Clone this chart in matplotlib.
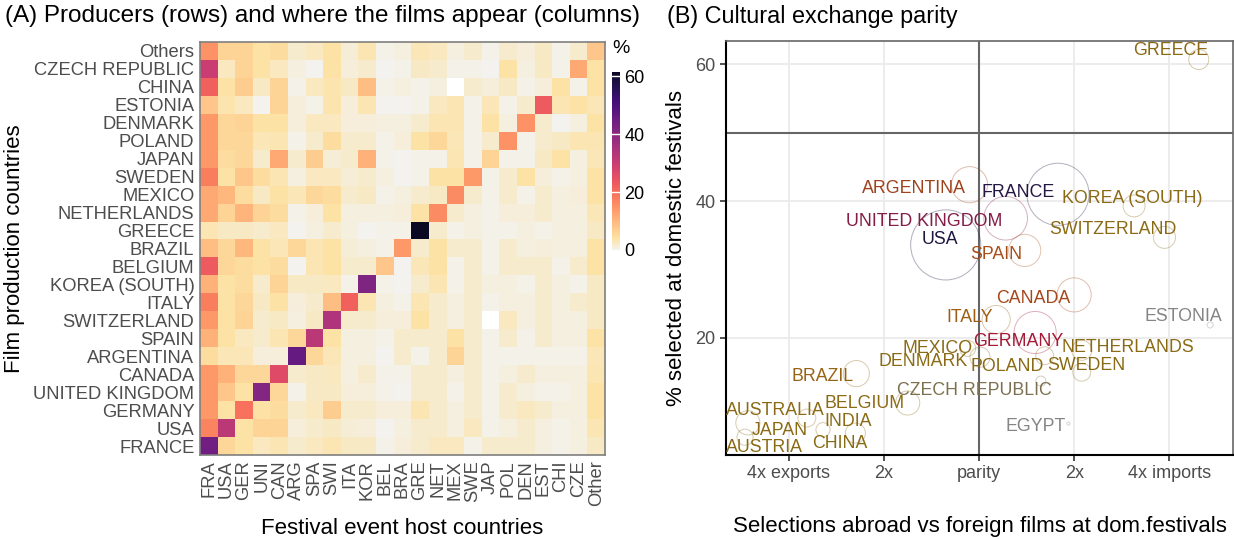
import numpy as np
import matplotlib
matplotlib.use("Agg")
import matplotlib.pyplot as plt
from matplotlib.colors import LinearSegmentedColormap, Normalize

plt.rcParams["font.family"] = ["Liberation Sans", "DejaVu Sans"]

# ---- (A) heatmap data: % of each producer's selections by host country ----
producers = ["Others", "CZECH REPUBLIC", "CHINA", "ESTONIA", "DENMARK", "POLAND",
             "JAPAN", "SWEDEN", "MEXICO", "NETHERLANDS", "GREECE", "BRAZIL",
             "BELGIUM", "KOREA (SOUTH)", "ITALY", "SWITZERLAND", "SPAIN",
             "ARGENTINA", "CANADA", "UNITED KINGDOM", "GERMANY", "USA", "FRANCE"]
hosts = ["FRA", "USA", "GER", "UNI", "CAN", "ARG", "SPA", "SWI", "ITA", "KOR",
         "BEL", "BRA", "GRE", "NET", "MEX", "SWE", "JAP", "POL", "DEN", "EST",
         "CHI", "CZE", "Other"]

row_others = [15, 6, 6, 4, 4.7, 1.8, 2.5, 4, 1.4, 3.3, 0.4, 0.8, 2.9, 2.5, 0.8, 1.8, 0.4, 1.8, 1.1, 2.2, 0.4, 1.8, 7.8]
row_czech = [30, 2.5, 6, 4, 2.5, 0.8, 0.2, 4, 1.1, 1.8, 0.2, 0.4, 2.2, 1.8, 0.4, 0.4, 0.2, 4, 0.8, 2.2, 0.4, 12, 4]
row_china = [22, 4, 6.8, 2.2, 6, 0.4, 2.5, 3.6, 2.2, 9, 0.4, 0.8, 0.4, 0.8, np.nan, 1.8, 1.1, 2.2, 0.4, 1.1, 4, 0.4, 4]
row_estonia = [7.8, 3.6, 2.5, 0.2, 6, 1.1, 0.4, 3.6, 1.1, 3.3, 0.2, 0.2, 0.4, 2.5, 3.3, 0.4, 2.9, 0.4, 1.8, 23, 3.3, 4, 2.9]
row_denmark = [14, 5.3, 6, 4, 4, 1.1, 2.5, 2.5, 1.1, 1.1, 0.8, 0.8, 1.8, 3.3, 3.3, 0.4, 4, 0.8, 15, 1.8, 0.2, 0.8, 4]
row_poland = [14, 5.3, 5.3, 2.9, 3.3, 0.4, 1.8, 4.7, 1.8, 1.8, 0.4, 1.1, 4, 5.3, 2.9, 0.4, 1.8, 15, 0.4, 1.8, 2.2, 3.3, 3.3]
row_japan = [14, 4.7, 5.3, 1.8, 12, 1.8, 6.8, 1.4, 1.8, 11, 0.4, 0.2, 0.4, 0.4, 3.3, 0.4, 6, 0.4, 0.4, 2.2, 4, 0.8, 2.9]
row_sweden = [18, 4, 7.8, 4.7, 3.3, 0.8, 2.5, 2.5, 1.4, 1.8, 0.8, 0.2, 0.4, 4, 4, 14, 0.4, 1.8, 4, 1.1, 0.4, 0.8, 4]
row_mexico = [12, 10, 4.7, 2.2, 4, 2.9, 5.3, 4.7, 1.8, 2.2, 0.4, 0.8, 1.8, 2.2, 16, 1.8, 0.4, 1.8, 0.4, 1.8, 0.8, 1.1, 4]
row_netherlands = [12, 6, 10.5, 6, 4.7, 0.4, 1.1, 4, 0.8, 0.8, 0.8, 1.1, 4, 16, 1.8, 0.8, 0.4, 1.1, 1.1, 1.8, 0.8, 0.8, 2.9]
row_greece = [3.3, 2.2, 2.2, 1.8, 2.5, 0.2, 0.8, 1.8, 0.8, 0.2, 0.4, 0.4, 61.5, 1.8, 0.4, 0.8, 0.4, 0.4, 0.8, 0.4, 0.8, 0.8, 2.2]
row_brazil = [9, 5.3, 10, 4, 2.9, 5.3, 3.3, 4, 1.4, 0.8, 0.4, 14, 1.8, 4, 1.8, 1.8, 0.4, 1.8, 0.8, 1.1, 0.8, 0.8, 4]
row_belgium = [23, 5.3, 4.7, 4, 4.7, 0.2, 3.3, 4, 1.8, 1.8, 7.8, 0.2, 2.9, 4, 0.4, 1.8, 0.4, 1.8, 1.8, 1.8, 0.4, 1.8, 4]
row_korea = [11, 4, 4.7, 1.8, 6, 2.2, 2.2, 2.5, 0.4, 42, 0.4, 0.2, 1.8, 3.3, 0.4, 1.8, 0.8, 0.8, 0.4, 1.8, 0.8, 0.4, 2.2]
row_italy = [18, 4, 5.3, 2.2, 4, 1.1, 1.8, 9, 22, 3.3, 0.8, 0.4, 3.3, 1.8, 0.8, 1.8, 0.4, 0.8, 0.8, 1.8, 0.8, 1.8, 2.2]
row_switzerland = [14, 4, 6, 1.8, 2.2, 0.8, 2.2, 34, 1.8, 1.8, 1.1, 1.1, 4, 1.8, 0.8, 1.8, np.nan, 2.5, 0.8, 1.8, 0.8, 0.8, 2.2]
row_spain = [11, 4, 2.5, 1.8, 3.3, 5.3, 32, 4, 0.8, 0.8, 0.4, 1.8, 1.8, 1.8, 4, 1.8, 0.4, 1.8, 0.4, 1.8, 0.8, 0.8, 4]
row_argentina = [4.7, 2.9, 2.9, 1.1, 1.1, 46, 5.3, 2.9, 0.8, 0.8, 0.2, 1.8, 0.4, 1.8, 6, 1.8, 0.4, 0.4, 0.4, 0.4, 0.4, 0.4, 2.9]
row_canada = [14, 11, 5.3, 5.3, 26, 1.8, 2.2, 2.5, 0.8, 1.8, 0.4, 0.4, 1.8, 1.8, 0.8, 1.8, 0.4, 0.8, 1.8, 0.8, 0.8, 0.8, 3.3]
row_uk = [14, 7.8, 4, 41, 5.3, 0.4, 2.2, 2.2, 1.1, 1.1, 0.4, 0.2, 1.8, 1.8, 0.4, 1.8, 0.4, 1.8, 0.8, 0.4, 0.4, 0.8, 4]
row_germany = [14, 4, 19.5, 4, 4.7, 1.8, 2.5, 6.8, 1.8, 1.8, 1.1, 1.1, 3.3, 1.8, 0.8, 1.8, 0.4, 1.8, 2.5, 1.8, 0.8, 0.8, 4]
row_usa = [17, 32, 4, 6, 6, 1.1, 1.8, 2.2, 1.4, 1.1, 0.2, 0.8, 1.8, 1.8, 0.8, 2.5, 0.4, 0.8, 1.8, 0.8, 0.4, 0.8, 3.3]
row_france = [44, 5.3, 4, 2.5, 3.3, 1.8, 2.5, 3.3, 2.2, 2.2, 0.4, 1.1, 1.8, 2.5, 2.5, 0.4, 1.8, 1.8, 1.8, 0.8, 0.4, 0.8, 2.2]

# ---- (B) scatter data ----
countries = ["FRANCE", "USA", "UNITED KINGDOM", "GERMANY", "ARGENTINA", "CANADA",
             "SPAIN", "ITALY", "BRAZIL", "KOREA (SOUTH)", "SWITZERLAND", "GREECE",
             "BELGIUM", "AUSTRALIA", "CHINA", "NETHERLANDS", "SWEDEN", "POLAND",
             "MEXICO", "DENMARK", "JAPAN", "INDIA", "AUSTRIA", "CZECH REPUBLIC",
             "ESTONIA", "EGYPT"]
# log2(imports / exports)
exchange_ratio = [0.83, -0.35, 0.28, 0.59, -0.10, 1.00, 0.48, 0.18, -1.29, 1.63, 1.95, 2.31,
                  -0.75, -2.43, -1.30, 1.08, 1.08, 0.69, 0.01, -0.12, -1.81, -1.64, -2.46, 0.65,
                  2.43, 0.94]
domestic_pct = [41.0, 33.6, 37.5, 20.8, 42.4, 26.3, 32.8, 22.7, 14.8, 39.3, 34.7, 60.7,
                10.5, 7.6, 6.1, 18.2, 15.0, 17.4, 17.2, 18.5, 8.3, 6.6, 5.5, 13.7,
                21.9, 7.5]
films = [385, 490, 190, 177, 130, 116, 103, 79, 68, 48, 48, 40,
         58, 58, 40, 40, 32, 32, 40, 26, 32, 20, 26, 10,
         3.6, 1]

# label offsets from the circle centre, in pixels (repel-style placement)
label_offset = {
    "FRANCE": (-40, 2), "USA": (-6, 5), "UNITED KINGDOM": (-81, -3), "GERMANY": (-17, -9),
    "ARGENTINA": (-56, -4), "CANADA": (-41, -4), "SPAIN": (-28, -4), "ITALY": (-27, 2),
    "BRAZIL": (-34, -3), "KOREA (SOUTH)": (-2, 7), "SWITZERLAND": (-52, 8), "GREECE": (-28, 9),
    "BELGIUM": (-43, -1), "AUSTRALIA": (27, 12), "CHINA": (-16, -10), "NETHERLANDS": (46, 3),
    "SWEDEN": (5, 7), "POLAND": (-37, -11), "MEXICO": (-42, 9), "DENMARK": (-44, -13),
    "JAPAN": (-27, -12), "INDIA": (25, 8), "AUSTRIA": (19, -10), "CZECH REPUBLIC": (-66, -9),
    "ESTONIA": (-27, 8), "EGYPT": (-33, -3),
}

W, H = 1234, 539
fig = plt.figure(figsize=(W / 100, H / 100), dpi=100)

# heat colour scale: grey-white at 0, then reversed magma
mag = plt.get_cmap("magma")
vmax = 61.5
stops = [(0.0, "#f4f2ee")]
for v in np.arange(4, 61, 2):
    stops.append((v / vmax, mag(1 - v / 66)))
stops.append((1.0, mag(1 - vmax / 66)))
heat_cmap = LinearSegmentedColormap.from_list("heat", stops)
heat_cmap.set_bad("white")

share = np.array([row_others, row_czech, row_china, row_estonia, row_denmark, row_poland,
                  row_japan, row_sweden, row_mexico, row_netherlands, row_greece, row_brazil,
                  row_belgium, row_korea, row_italy, row_switzerland, row_spain, row_argentina,
                  row_canada, row_uk, row_germany, row_usa, row_france], dtype=float)

ax1 = fig.add_axes([200 / W, 1 - 455 / H, 405 / W, 413 / H])
im = ax1.imshow(np.ma.masked_invalid(share), cmap=heat_cmap, vmin=0, vmax=vmax,
                aspect="auto", interpolation="nearest")
ax1.set_xticks(range(len(hosts)))
ax1.set_xticklabels(hosts, rotation=90, va="top", ha="center")
ax1.set_yticks(range(len(producers)))
ax1.set_yticklabels(producers)
ax1.tick_params(length=0, pad=4, labelsize=13.2, labelcolor="#4d4d4d")
for s in ax1.spines.values():
    s.set_color("#7f7f7f")
    s.set_linewidth(1.2)
ax1.set_xlabel("Festival event host countries", fontsize=16, labelpad=8)
ax1.set_ylabel("Film production countries", fontsize=16, labelpad=6)

cax = fig.add_axes([612 / W, 1 - 250 / H, 8 / W, 178 / H])
cb = fig.colorbar(im, cax=cax)
cb.outline.set_visible(False)
cb.set_ticks([0, 20, 40, 60])
cax.tick_params(length=0, labelsize=13, pad=3)
for t in [20, 40, 60]:
    cax.axhline(t, color="white", lw=1)
fig.text(612 / W, 1 - 40 / H, "%", fontsize=14, va="top")

fig.text(5 / W, 1 - 5 / H, "(A) Producers (rows) and where the films appear (columns)",
         fontsize=17.5, va="top")

# ---- (B) ----
size_cmap = LinearSegmentedColormap.from_list("sizecol", [
    (0.0, "#858585"), (0.25, "#858585"), (0.372, "#7d7050"), (0.47, "#8a6a14"),
    (0.66, "#8a6a14"), (0.69, "#9c6014"), (0.72, "#a05a12"), (0.75, "#a84e1a"),
    (0.79, "#a0401c"), (0.835, "#a51a35"), (0.85, "#7c1e4a"), (0.93, "#2a1848"),
    (1.0, "#1e1640")])
size_norm = Normalize(0, np.log10(490))
cols = [size_cmap(size_norm(np.log10(f))) for f in films]

ax2 = fig.add_axes([726 / W, 1 - 455 / H, 507 / W, 414 / H])
ax2.set_xlim(-2.66, 2.67)
ax2.set_ylim(2.9, 63.4)
ax2.set_xticks([-2, -1, 0, 1, 2])
ax2.set_xticklabels(["4x exports", "2x", "parity", "2x", "4x imports"])
ax2.set_yticks([20, 40, 60])
ax2.grid(True, color="#ebebeb", lw=1.3, zorder=0)
ax2.set_axisbelow(True)
ax2.axvline(0, color="#666666", lw=1.5, zorder=1)
ax2.axhline(50, color="#666666", lw=1.5, zorder=1)

ax2.scatter(exchange_ratio, domestic_pct, s=[5.2 * f for f in films],
            facecolors="none", edgecolors=[(c[0], c[1], c[2], 0.35) for c in cols],
            linewidths=0.7, zorder=3)
for name, xv, yv, c in zip(countries, exchange_ratio, domestic_pct, cols):
    dx, dy = label_offset[name]
    ax2.annotate(name, (xv, yv), xytext=(dx, dy), textcoords="offset pixels",
                 ha="center", va="center", fontsize=12.8, color=c, zorder=4)

for side in ["top", "right"]:
    ax2.spines[side].set_color("#666666")
    ax2.spines[side].set_linewidth(1.2)
for side in ["left", "bottom"]:
    ax2.spines[side].set_color("black")
    ax2.spines[side].set_linewidth(1.5)
ax2.tick_params(length=4, width=1.2, labelsize=13, labelcolor="#4d4d4d", color="#333333")
ax2.set_xlabel("Selections abroad vs foreign films at dom.festivals", fontsize=16, labelpad=24)
ax2.set_ylabel("% selected at domestic festivals", fontsize=16, labelpad=6)

fig.text(667 / W, 1 - 5 / H, "(B) Cultural exchange parity", fontsize=16.8, va="top")

fig.savefig("out.png", dpi=100)
